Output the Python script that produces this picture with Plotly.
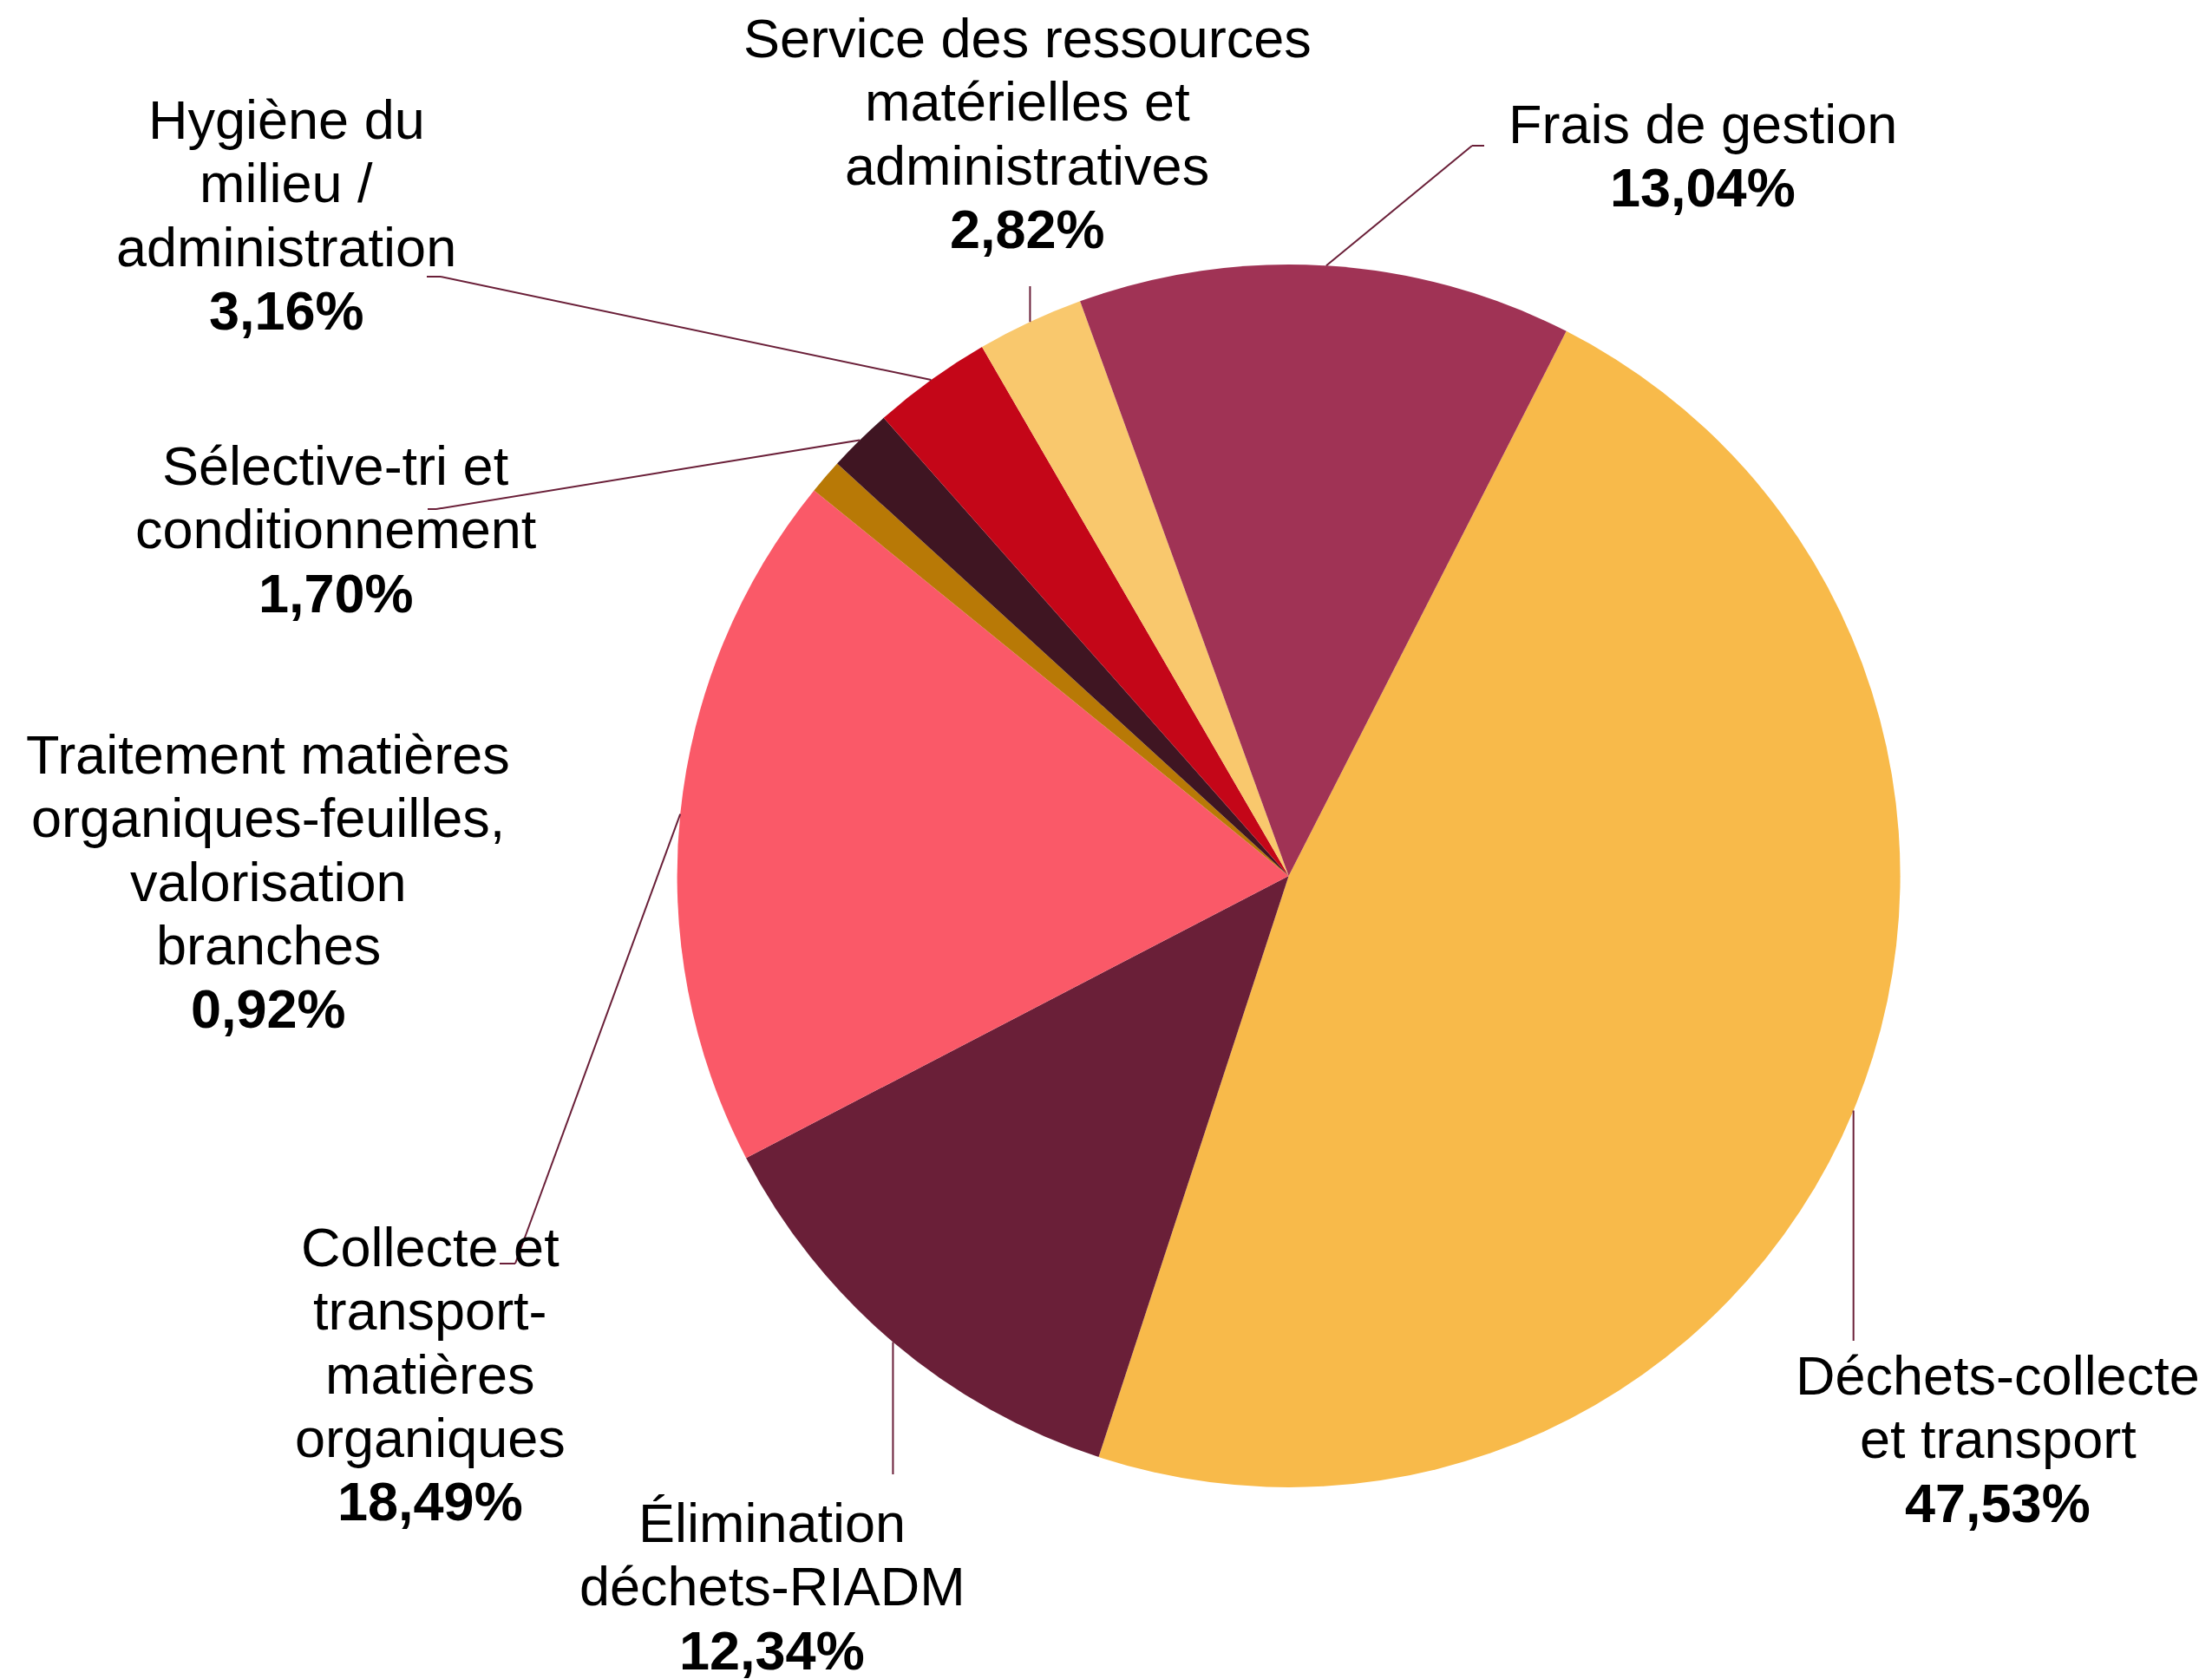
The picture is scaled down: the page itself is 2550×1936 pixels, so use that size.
import math
import plotly.graph_objects as go

# ---------------- data ----------------
categories = [
    "Déchets-collecte et transport",
    "Élimination déchets-RIADM",
    "Collecte et transport-matières organiques",
    "Traitement matières organiques-feuilles, valorisation branches",
    "Sélective-tri et conditionnement",
    "Hygiène du milieu / administration",
    "Service des ressources matérielles et administratives",
    "Frais de gestion",
]
values = [47.53, 12.34, 18.49, 0.92, 1.70, 3.16, 2.82, 13.04]
label_lines = [
    ["Déchets-collecte", "et transport"],
    ["Élimination", "déchets-RIADM"],
    ["Collecte et", "transport-", "matières", "organiques"],
    ["Traitement matières", "organiques-feuilles,", "valorisation", "branches"],
    ["Sélective-tri et", "conditionnement"],
    ["Hygiène du", "milieu /", "administration"],
    ["Service des ressources", "matérielles et", "administratives"],
    ["Frais de gestion"],
]
colors = ["#F8BA4A", "#6A1F38", "#FA5968", "#B87906",
          "#3F1522", "#C40618", "#F9C86D", "#A03355"]

# ---------------- layout constants (pixels) ----------------
W, H = 2550, 1936
CX, CY, R = 1485.6, 1010.0, 705.0
ROTATION = 27
FONT = "Liberation Sans, Arial, sans-serif"
FS = 63
LINE_H = 73.3
LINE_COLOR = "#6A1F38"

# first-line centre of each label
label_pos = [(2303, 1586), (890, 1756), (496, 1438), (309, 870),
             (387, 537), (330, 138), (1184, 44), (1963, 143)]
# leader line waypoints after the slice-edge point (None x -> vertical)
leader_pts = [
    [(None, 1546)],
    [(None, 1700)],
    [(594, 1457), (576, 1457)],
    [],
    [(503, 587), (493, 587)],
    [(508, 319), (492, 319)],
    [(None, 330)],
    [(1697, 168), (1711, 168)],
]


def px(x):
    return x / W


def py(y):
    return 1 - y / H


fig = go.Figure()
fig.add_trace(go.Pie(
    labels=categories, values=values, sort=False, direction="clockwise",
    rotation=ROTATION, marker=dict(colors=colors, line=dict(width=0)),
    textinfo="none", hoverinfo="label+percent",
    domain=dict(x=[px(CX - R), px(CX + R)], y=[py(CY + R), py(CY - R)]),
))

total = sum(values)
shapes = []
annotations = []
cum = 0.0
for i, v in enumerate(values):
    mid = math.radians(ROTATION + 360.0 * (cum + v / 2) / total)
    cum += v
    sx = CX + R * math.sin(mid)
    sy = CY - R * math.cos(mid)
    prev = (sx, sy)
    for (ex, ey) in leader_pts[i]:
        ex = sx if ex is None else ex
        shapes.append(dict(type="line", xref="paper", yref="paper",
                           x0=px(prev[0]), y0=py(prev[1]), x1=px(ex), y1=py(ey),
                           line=dict(color=LINE_COLOR, width=2)))
        prev = (ex, ey)
    lx, ly = label_pos[i]
    pct = f"{v:.2f}".replace(".", ",") + "%"
    lines = label_lines[i] + [f"<b>{pct}</b>"]
    for k, t in enumerate(lines):
        annotations.append(dict(
            x=px(lx), y=py(ly + k * LINE_H), xref="paper", yref="paper",
            text=t, showarrow=False, xanchor="center", yanchor="middle",
            font=dict(family=FONT, size=FS, color="#000000"),
        ))

fig.update_layout(
    width=W, height=H, autosize=False,
    margin=dict(l=0, r=0, t=0, b=0),
    paper_bgcolor="white", plot_bgcolor="white",
    showlegend=False, shapes=shapes, annotations=annotations,
)

fig.write_html("out.html", config={"displayModeBar": False},
               post_script="document.body.style.margin='0';")
